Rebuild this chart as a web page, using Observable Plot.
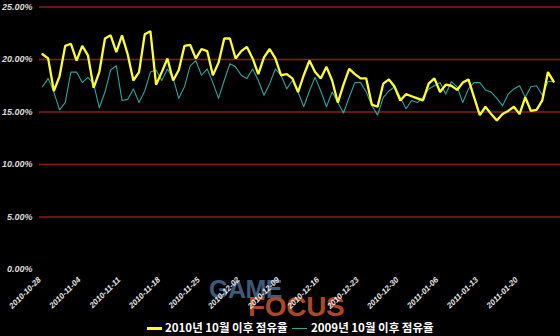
<!DOCTYPE html>
<html><head><meta charset="utf-8">
<script src="https://cdn.jsdelivr.net/npm/d3@7"></script>
<script src="https://cdn.jsdelivr.net/npm/@observablehq/plot@0.6"></script>
<style>
html,body{margin:0;padding:0;background:#000;}
#wrap{position:relative;width:560px;height:336px;overflow:hidden;background:#000;}
#wm{position:absolute;left:0;top:0;width:560px;height:336px;z-index:0;font-family:"Liberation Sans",Arial,sans-serif;font-weight:bold;}
#chart{position:absolute;left:0;top:0;z-index:1;}
#legend{position:absolute;left:0;top:312px;width:560px;height:24px;z-index:2;font-family:"Noto Sans CJK KR","Liberation Sans",sans-serif;font-weight:bold;font-size:11.5px;line-height:13px;color:#fff;}
.sw{position:absolute;height:0;}
.lt{position:absolute;top:9px;white-space:nowrap;}
</style></head>
<body>
<div id="wrap">
  <div id="wm">
    <div style="position:absolute;left:209px;top:276px;font-size:25px;line-height:26px;color:#3f5a78;letter-spacing:-0.5px;">GAME</div>
    <div style="position:absolute;left:248px;top:295px;font-size:28px;line-height:24px;color:#a84a28;letter-spacing:-0.3px;">FOCUS</div>
  </div>
  <div id="chart"></div>
  <div id="legend"></div>
</div>
<script>
const startDate = "2010-10-28";
const tickLabels = ["2010-10-28","2010-11-04","2010-11-11","2010-11-18","2010-11-25","2010-12-02","2010-12-09","2010-12-16","2010-12-23","2010-12-30","2011-01-06","2011-01-13","2011-01-20"];
const yTicks = [0,5,10,15,20,25];
const gridValues = [5,10,15,20,25];
const seriesNames = ["2010년 10월 이후 점유율","2009년 10월 이후 점유율"];
const share2010 = [20.5,20.1,17.0,18.4,21.3,21.5,19.9,21.3,20.4,17.3,18.8,22.0,22.3,20.7,22.3,20.5,18.0,18.8,22.4,22.7,
17.6,18.8,20.1,18.0,19.0,21.3,21.4,20.1,21.0,20.8,18.5,19.7,22.0,22.0,20.1,20.8,21.2,20.1,18.6,20.2,
21.0,20.1,18.5,18.6,18.2,16.9,18.5,19.9,18.8,18.2,19.3,18.0,15.9,17.6,19.1,18.6,18.2,18.2,15.7,15.5,
17.7,18.1,17.4,16.1,16.7,16.5,16.3,16.1,17.7,18.2,16.9,17.6,17.5,17.1,17.8,18.1,16.4,14.7,15.5,14.8,
14.2,14.8,15.1,15.5,14.8,16.4,15.1,15.2,16.1,18.8,17.9];
const share2009 = [17.4,18.2,16.9,15.2,15.9,18.8,18.8,17.8,18.3,17.7,15.4,16.9,19.0,19.4,16.1,16.2,17.2,15.9,17.0,18.8,
19.0,18.0,19.1,18.2,16.3,17.4,19.4,19.9,18.5,19.1,17.8,16.3,18.0,19.6,19.3,18.5,18.2,19.1,18.0,16.6,
17.7,19.1,18.5,17.2,18.0,16.9,15.5,17.0,18.3,17.0,15.5,16.9,15.9,14.9,16.4,17.8,17.8,16.9,15.6,14.7,
16.4,17.0,17.4,16.4,15.3,16.1,15.9,16.4,17.2,17.5,17.8,16.7,17.9,17.4,15.9,17.2,17.8,17.8,17.1,16.9,
16.3,15.6,16.7,17.2,17.5,16.4,17.4,17.5,16.6,17.9,17.9];
const colors = ["#ffff33","#2ea3a0"];

const t0 = new Date(startDate + "T00:00Z");
const rows2010 = share2010.map((v,i)=>({date:d3.utcDay.offset(t0,i), v}));
const rows2009 = share2009.map((v,i)=>({date:d3.utcDay.offset(t0,i), v}));
const tickDates = tickLabels.map(s=>new Date(s+"T00:00Z"));

const chart = Plot.plot({
  width:560, height:312,
  marginLeft:39, marginRight:0, marginTop:6.5, marginBottom:43,
  style:{background:"transparent", color:"#ddd"},
  x:{type:"utc", domain:[new Date("2010-10-27T11:20Z"), new Date("2011-01-27T05:00Z")]},
  y:{domain:[0,25]},
  marks:[
    Plot.ruleY(gridValues,{stroke:"#8e1c1c",strokeWidth:1.5}),
    Plot.axisY({ticks:yTicks, tickSize:0, tickPadding:7, label:null, tickFormat:d=>d.toFixed(2)+"%", fontSize:9, fontStyle:"italic", fontWeight:"bold", fontFamily:"Liberation Sans, Arial, sans-serif", fill:"#dcdcdc"}),
    Plot.axisX({ticks:tickDates, tickSize:0, tickPadding:9, tickRotate:-45, label:null, tickFormat:d3.utcFormat("%Y-%m-%d"), fontSize:8, fontStyle:"italic", fontWeight:"bold", fontFamily:"Liberation Sans, Arial, sans-serif", fill:"#e6e6e6", dx:-3}),
    Plot.line(rows2009,{x:"date",y:"v",stroke:colors[1],strokeWidth:1.1}),
    Plot.line(rows2010,{x:"date",y:"v",stroke:colors[0],strokeWidth:2.3,strokeLinejoin:"miter"})
  ]
});
document.getElementById("chart").appendChild(chart);

const lg = document.getElementById("legend");
lg.innerHTML =
  `<div class="sw" style="left:147px;top:15px;width:15px;border-top:3px solid ${colors[0]}"></div>`+
  `<div class="lt" style="left:165px">${seriesNames[0]}</div>`+
  `<div class="sw" style="left:292px;top:16px;width:15px;border-top:1.5px solid ${colors[1]}"></div>`+
  `<div class="lt" style="left:311px">${seriesNames[1]}</div>`;
</script>
</body></html>
